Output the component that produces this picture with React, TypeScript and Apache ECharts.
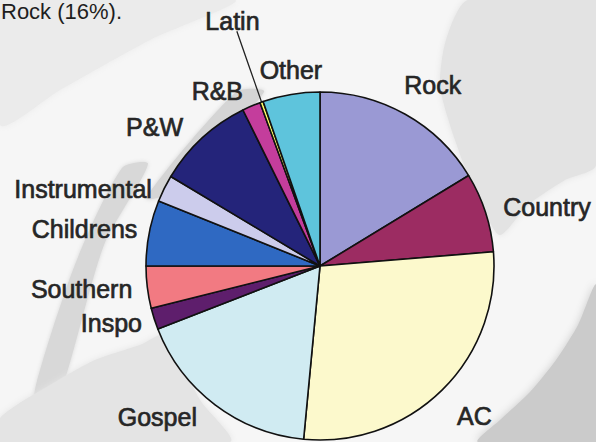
import React, { useEffect, useRef } from "react";
import * as echarts from "echarts";

// ---- data ----
const categories = ["Rock", "Country", "AC", "Gospel", "Inspo", "Southern", "Childrens", "Instrumental", "P&W", "R&B", "Latin", "Other"];
const shares = [16.3, 7.4, 27.8, 17.6, 2.0, 3.9, 6.1, 2.5, 9.1, 1.7, 0.3, 5.3];
const headline = "Rock (16%).";

// ---- styles ----
const sliceColors = ["#9a99d4", "#9c2c62", "#fcf9cc", "#d0ebf2", "#5e1e6c", "#f27a82", "#2f69c2", "#ccccec", "#24247a", "#c43d9c", "#ffff66", "#5ec4dc"];
const labelNudges: [number, number][] = [
  [-9, -24], [7, -3], [5.5, 22], [-9.5, 7], [-1.5, 2], [-4, 1.5],
  [-1, -3], [-2, 3], [-10, -7], [-1, -9.5], [5, -75], [37, -18],
];
const leaderShown = ["Latin"];

const FONT = '"Liberation Sans", Arial, Helvetica, sans-serif';

function bgPoly(points: number[][], fill: string, blur = 6) {
  return {
    type: "polygon",
    silent: true,
    z: -10,
    shape: { points, smooth: 0.25 },
    style: { fill, shadowBlur: blur, shadowColor: fill },
  };
}

export default function App() {
  const ref = useRef<HTMLDivElement>(null);
  useEffect(() => {
    if (!ref.current) return;
    const chart = echarts.init(ref.current, undefined, { renderer: "svg" });
    const data = categories.map((name, i) => ({
      name,
      value: shares[i],
      itemStyle: { color: sliceColors[i] },
      labelLine: { show: leaderShown.includes(name) },
    }));
    chart.setOption({
      animation: false,
      backgroundColor: "#f6f6f6",
      title: {
        text: headline,
        left: 1,
        top: 0,
        padding: 0,
        textStyle: { fontSize: 22, fontWeight: "normal", fontFamily: FONT, color: "#1e1e1e", lineHeight: 22 },
      },
      graphic: [
        bgPoly([[0, 0], [235, 0], [150, 40], [60, 90], [0, 125]], "#ebebeb"),
        bgPoly([[468, 0], [596, 0], [596, 165], [565, 180], [528, 205], [500, 235], [484, 210], [466, 170], [450, 125], [440, 85], [446, 40]], "#e3e3e3"),
        bgPoly([[236, 92], [264, 92], [172, 192], [146, 198]], "#d5d5d5", 4),
        bgPoly([[122, 168], [148, 164], [104, 245], [58, 400], [32, 432], [36, 385], [76, 262]], "#d8d8d8", 4),
        bgPoly([[0, 442], [0, 418], [50, 385], [95, 360], [140, 345], [165, 335], [200, 400], [230, 442]], "#e4e4e4"),
        bgPoly([[596, 285], [596, 442], [478, 442], [500, 420], [530, 392], [556, 360], [578, 325]], "#cbcbcb", 8),
      ],
      series: [
        {
          type: "pie",
          center: [320, 266],
          radius: 174,
          startAngle: 90,
          clockwise: true,
          avoidLabelOverlap: false,
          data,
          itemStyle: { borderColor: "#111", borderWidth: 1.6 },
          label: {
            show: true,
            position: "outside",
            formatter: "{b}",
            fontFamily: FONT,
            fontSize: 25,
            color: "#262626",
            textBorderColor: "#2c2c2c",
            textBorderWidth: 0.7,
          },
          labelLine: { show: false, length: 6, length2: 0, lineStyle: { color: "#222", width: 1.3 } },
          labelLayout: (params: any) => {
            const [dx, dy] = labelNudges[params.dataIndex];
            const out: any = { dx, dy };
            if (leaderShown.includes(categories[params.dataIndex]) && params.labelLinePoints) {
              const r = params.labelRect;
              const start = params.labelLinePoints[0];
              const end = [r.x + dx + r.width * 0.58, r.y + dy + r.height - 3];
              out.labelLinePoints = [start, [(start[0] + end[0]) / 2, (start[1] + end[1]) / 2], end];
            }
            return out;
          },
          emphasis: { disabled: true },
        },
      ],
    });
    return () => chart.dispose();
  }, []);
  return <div ref={ref} style={{ position: "fixed", left: 0, top: 0, width: 596, height: 442 }} />;
}
